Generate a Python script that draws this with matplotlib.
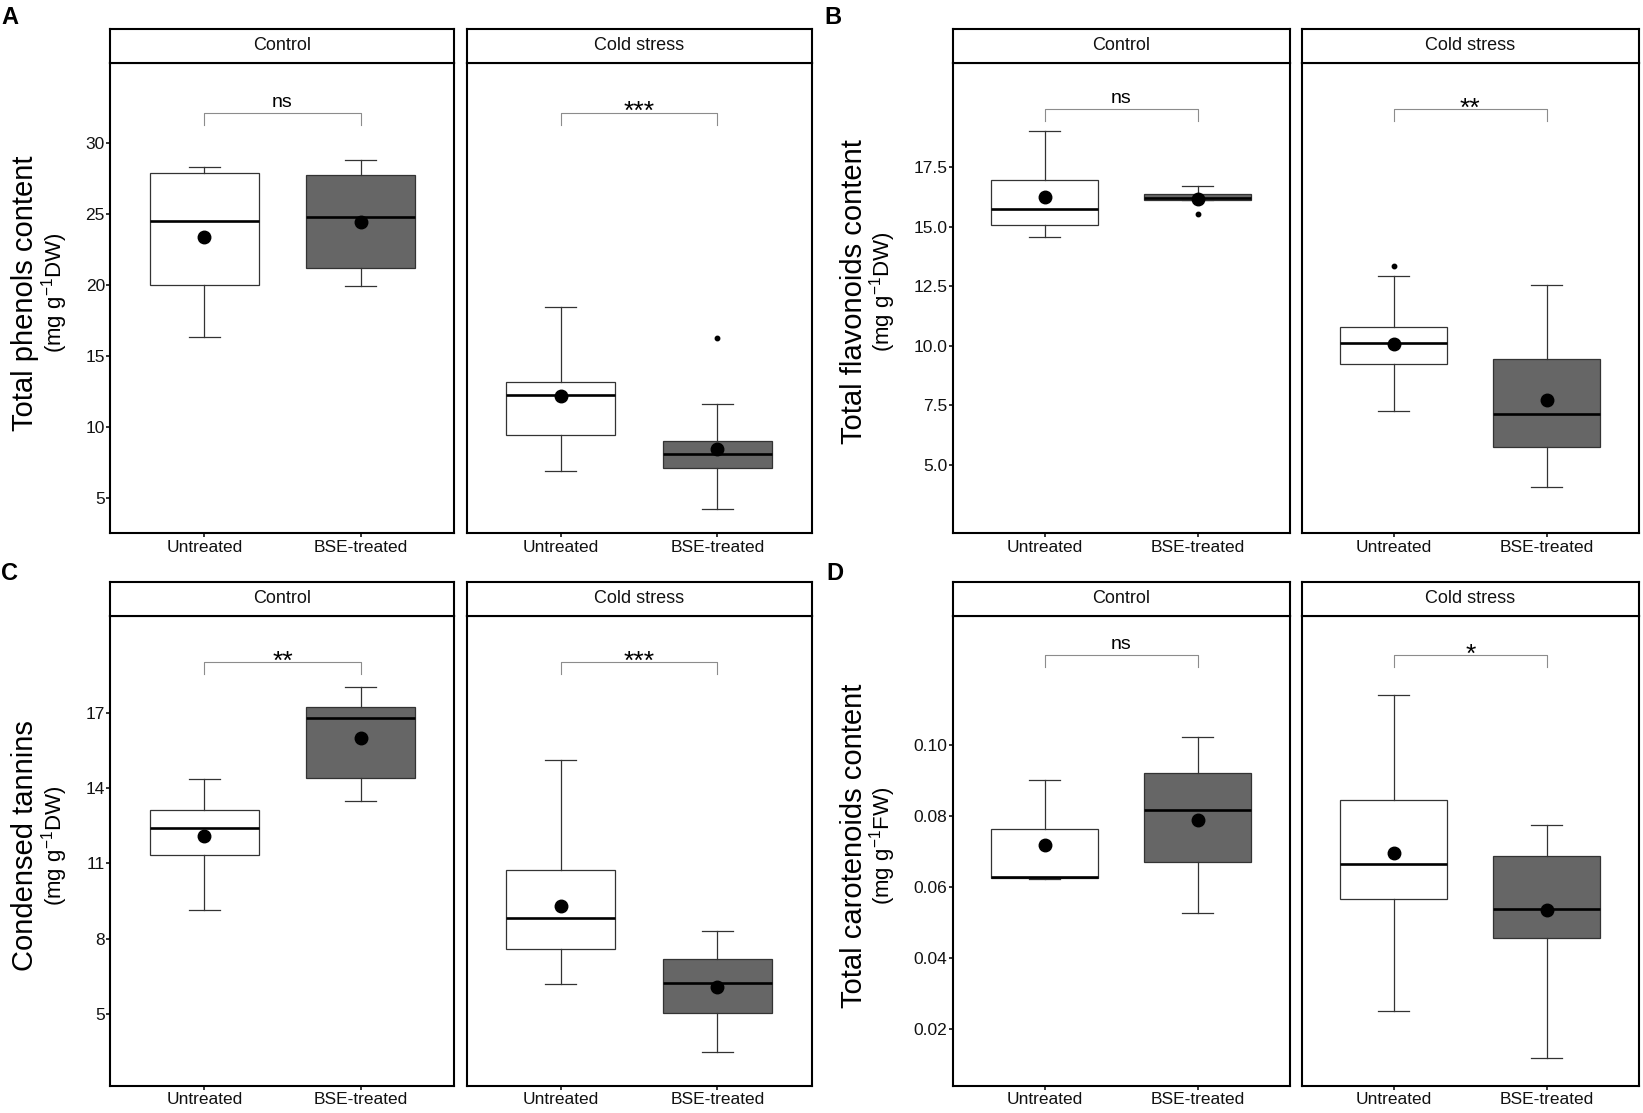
import matplotlib
matplotlib.use('Agg')
import matplotlib.pyplot as plt
from matplotlib.transforms import offset_copy

plt.rcParams['font.family'] = ['Liberation Sans', 'DejaVu Sans']
plt.rcParams['mathtext.fontset'] = 'custom'
plt.rcParams['mathtext.rm'] = 'Liberation Sans'
plt.rcParams['mathtext.it'] = 'Liberation Sans:italic'
plt.rcParams['mathtext.bf'] = 'Liberation Sans:bold'

W, H, DPI = 1643, 1113, 100

# ---------------- data ----------------
groups = ['Untreated', 'BSE-treated']
facets = ['Control', 'Cold stress']
# order of each list: Control-Untreated, Control-BSE, Cold-Untreated, Cold-BSE

# A: Total phenols content
phen_lo = [16.28, 19.91, 6.88, 4.20]
phen_q1 = [19.99, 21.20, 9.41, 7.12]
phen_med = [24.49, 24.79, 12.24, 8.05]
phen_q3 = [27.88, 27.69, 13.16, 9.02]
phen_hi = [28.29, 28.81, 18.43, 11.60]
phen_mean = [23.35, 24.44, 12.19, 8.41]
phen_out = [[], [], [], [16.23]]
phen_sig = ['ns', '***']
phen_ticks = [5, 10, 15, 20, 25, 30]
phen_ticklabels = ['5', '10', '15', '20', '25', '30']

# B: Total flavonoids content
flav_lo = [14.59, 16.14, 7.26, 4.07]
flav_q1 = [15.07, 16.15, 9.25, 5.77]
flav_med = [15.75, 16.22, 10.12, 7.14]
flav_q3 = [16.96, 16.38, 10.79, 9.44]
flav_hi = [19.04, 16.73, 12.95, 12.55]
flav_mean = [16.28, 16.18, 10.09, 7.74]
flav_out = [[], [15.54], [13.37], []]
flav_sig = ['ns', '**']
flav_ticks = [5.0, 7.5, 10.0, 12.5, 15.0, 17.5]
flav_ticklabels = ['5.0', '7.5', '10.0', '12.5', '15.0', '17.5']

# C: Condensed tannins
tann_lo = [9.15, 13.48, 6.19, 3.46]
tann_q1 = [11.34, 14.39, 7.58, 5.01]
tann_med = [12.40, 16.78, 8.81, 6.23]
tann_q3 = [13.13, 17.25, 10.73, 7.20]
tann_hi = [14.36, 18.05, 15.11, 8.31]
tann_mean = [12.09, 15.99, 9.29, 6.08]
tann_out = [[], [], [], []]
tann_sig = ['**', '***']
tann_ticks = [5, 8, 11, 14, 17]
tann_ticklabels = ['5', '8', '11', '14', '17']

# D: Total carotenoids content
caro_lo = [0.0622, 0.0526, 0.0250, 0.0119]
caro_q1 = [0.0624, 0.0670, 0.0566, 0.0455]
caro_med = [0.0626, 0.0816, 0.0664, 0.0536]
caro_q3 = [0.0762, 0.0919, 0.0844, 0.0686]
caro_hi = [0.0899, 0.1022, 0.1141, 0.0774]
caro_mean = [0.0716, 0.0788, 0.0696, 0.0535]
caro_out = [[], [], [], []]
caro_sig = ['ns', '*']
caro_ticks = [0.02, 0.04, 0.06, 0.08, 0.10]
caro_ticklabels = ['0.02', '0.04', '0.06', '0.08', '0.10']

# ---------------- layout (pixels) ----------------
fig = plt.figure(figsize=(W / DPI, H / DPI), dpi=DPI)
fig.patch.set_facecolor('white')


def rect(x0, x1, y0, y1):
    return [x0 / W, (H - y1) / H, (x1 - x0) / W, (y1 - y0) / H]


def px2pt(p):
    return p * 72.0 / DPI


fills = ['white', '#666666']
edge = '#333333'


def panel(letter, letter_xy, cols, rows, lo, q1, med, q3, hi, mean, out,
          sig, ylim, bracket_y, ticks, ticklabels, title, unit, title_x, title_cy):
    (sy0, sy1, py1) = rows
    for fi, (x0, x1) in enumerate(cols):
        ax = fig.add_axes(rect(x0, x1, sy1, py1))
        stats = []
        for gi in range(2):
            k = fi * 2 + gi
            stats.append(dict(whislo=lo[k], q1=q1[k], med=med[k], q3=q3[k],
                              whishi=hi[k], fliers=out[k]))
        bp = ax.bxp(stats, positions=[1, 2], widths=0.7, capwidths=0.2,
                    patch_artist=True, showfliers=True,
                    boxprops=dict(edgecolor=edge, linewidth=0.9),
                    medianprops=dict(color='black', linewidth=1.9),
                    whiskerprops=dict(color=edge, linewidth=0.9),
                    capprops=dict(color=edge, linewidth=0.9),
                    flierprops=dict(marker='o', markersize=3.2,
                                    markerfacecolor='black',
                                    markeredgecolor='black', linestyle='none'))
        for patch, fc in zip(bp['boxes'], fills):
            patch.set_facecolor(fc)
        ax.plot([1, 2], mean[fi * 2:fi * 2 + 2], 'o', color='black',
                markersize=9, zorder=5)
        ax.set_xlim(0.4, 2.6)
        ax.set_ylim(*ylim)
        # bracket
        ppu = (py1 - sy1) / (ylim[1] - ylim[0])
        tip = bracket_y - 12.0 / ppu
        ax.plot([1, 1, 2, 2], [tip, bracket_y, bracket_y, tip],
                color='#8c8c8c', linewidth=0.8)
        lab = sig[fi]
        if lab == 'ns':
            tr = offset_copy(ax.transData, fig=fig, y=5.5, units='dots')
            ax.text(1.5, bracket_y, lab, transform=tr, ha='center',
                    va='baseline', fontsize=14, color='black')
        else:
            tr = offset_copy(ax.transData, fig=fig, y=-6.5, units='dots')
            ax.text(1.5, bracket_y, lab, transform=tr, ha='center',
                    va='baseline', fontsize=19, color='black')
        ax.set_xticks([1, 2])
        ax.set_xticklabels(groups, fontsize=12.5, color='#111111')
        if fi == 0:
            ax.set_yticks(ticks)
            ax.set_yticklabels(ticklabels, fontsize=12.5, color='#111111')
        else:
            ax.set_yticks([])
        ax.tick_params(axis='x', length=px2pt(4), width=1.1, pad=px2pt(2.5),
                       color='black')
        ax.tick_params(axis='y', length=px2pt(4), width=1.1, pad=px2pt(1.5),
                       color='black')
        for s in ax.spines.values():
            s.set_linewidth(1.5)
            s.set_color('black')
        # strip
        st = fig.add_axes(rect(x0, x1, sy0, sy1))
        st.set_xticks([])
        st.set_yticks([])
        st.set_facecolor('white')
        for s in st.spines.values():
            s.set_linewidth(1.5)
            s.set_color('black')
        st.text(0.5, 0.5, facets[fi], ha='center', va='center',
                fontsize=13, transform=st.transAxes, color='#111111')
    # panel letter
    fig.text(letter_xy[0] / W, 1 - letter_xy[1] / H, letter, fontsize=17,
             fontweight='bold', ha='left', va='baseline')
    # y titles
    fig.text(title_x[0] / W, 1 - title_cy / H, title, rotation=90,
             rotation_mode='anchor', ha='center', va='baseline', fontsize=21)
    fig.text(title_x[1] / W, 1 - title_cy / H, unit, rotation=90,
             rotation_mode='anchor', ha='center', va='baseline', fontsize=16)


cols_left = [(110.5, 454.5), (466.5, 811.5)]
cols_right = [(953.0, 1289.5), (1302.0, 1638.5)]
row1 = (28.5, 63.0, 533.0)
row2 = (581.5, 616.0, 1086.0)

panel('A', (1, 24), cols_left, row1, phen_lo, phen_q1, phen_med, phen_q3,
      phen_hi, phen_mean, phen_out, phen_sig, (2.51, 35.61), 32.10,
      phen_ticks, phen_ticklabels, 'Total phenols content',
      r'(mg g$^{-1}$DW)', (33.5, 61.5), 293)
panel('B', (824, 24), cols_right, row1, flav_lo, flav_q1, flav_med, flav_q3,
      flav_hi, flav_mean, flav_out, flav_sig, (2.14, 21.89), 19.96,
      flav_ticks, flav_ticklabels, 'Total flavonoids content',
      r'(mg g$^{-1}$DW)', (861.5, 889.5), 292)
panel('C', (1, 580), cols_left, row2, tann_lo, tann_q1, tann_med, tann_q3,
      tann_hi, tann_mean, tann_out, tann_sig, (2.115, 20.87), 19.02,
      tann_ticks, tann_ticklabels, 'Condensed tannins',
      r'(mg g$^{-1}$DW)', (33.5, 61.5), 846)
panel('D', (826, 580), cols_right, row2, caro_lo, caro_q1, caro_med, caro_q3,
      caro_hi, caro_mean, caro_out, caro_sig, (0.0039, 0.1362), 0.12525,
      caro_ticks, caro_ticklabels, 'Total carotenoids content',
      r'(mg g$^{-1}$FW)', (861.5, 889.5), 846)

fig.savefig('out.png', dpi=DPI, facecolor='white')
